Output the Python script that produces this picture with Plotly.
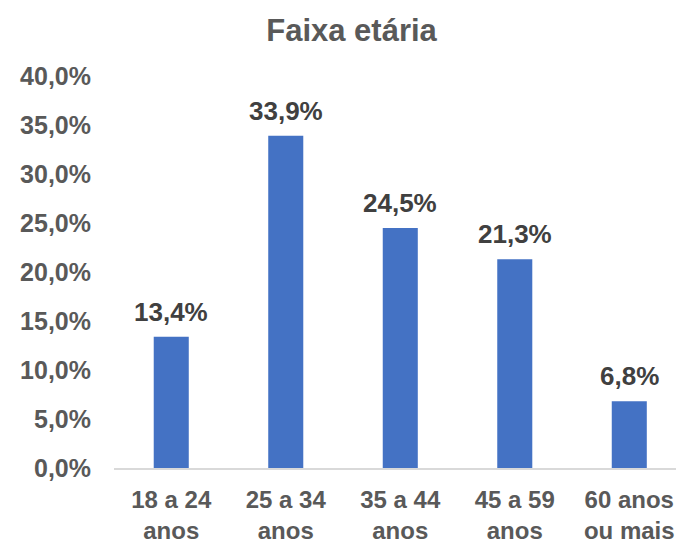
import plotly.graph_objs as go

# data
categories = ['18 a 24<br>anos', '25 a 34<br>anos', '35 a 44<br>anos', '45 a 59<br>anos', '60 anos<br>ou mais']
shares = [0.134, 0.339, 0.245, 0.213, 0.068]
y_ticks = [0.0, 0.05, 0.10, 0.15, 0.20, 0.25, 0.30, 0.35, 0.40]

FONT = 'Liberation Sans, Arial, sans-serif'
GREY = '#595959'
DARK = '#404040'
BLUE = '#4472C4'

trace = go.Bar(x=list(range(len(categories))), y=shares,
               marker=dict(color=BLUE, line=dict(width=0)),
               hoverinfo='skip')

# data labels above the bars
labels = []
for i, v in enumerate(shares):
    labels.append(dict(x=i, y=v, text=('%.1f%%' % (v * 100)).replace('.', ','),
                       showarrow=False, yanchor='bottom', yshift=8,
                       font=dict(family=FONT, size=26, color=DARK, weight='bold')))

layout = go.Layout(
    width=676, height=544,
    margin=dict(l=114, r=0, t=76, b=76, autoexpand=False),
    paper_bgcolor='white', plot_bgcolor='white',
    separators=',.',
    bargap=0.694,
    showlegend=False,
    title=dict(text='<b>Faixa etária</b>', x=0.52, xanchor='center', y=0.945, yanchor='middle',
               font=dict(family=FONT, size=31, color=GREY)),
    xaxis=dict(tickmode='array', tickvals=list(range(len(categories))), ticktext=categories,
               range=[-0.5, 4.408], showline=True, linecolor='#D9D9D9', linewidth=2,
               showgrid=False, zeroline=False, ticks='', ticklabelstandoff=9,
               ticklabeloverflow='allow', automargin=False,
               tickfont=dict(family=FONT, size=24, color=GREY, weight='bold'), tickangle=0),
    yaxis=dict(range=[0, 0.4], tickmode='array', tickvals=y_ticks, tickformat='.1%',
               showgrid=False, zeroline=False, showline=False, ticks='',
               ticklabelstandoff=22, automargin=False,
               tickfont=dict(family=FONT, size=25, color=GREY, weight='bold')),
    annotations=labels,
    font=dict(family=FONT),
)

fig = go.Figure(data=[trace], layout=layout)
# no page margin so the chart sits at the window corner
fig.write_html("out.html", config={'displayModeBar': False},
               post_script="document.body.style.margin='0';")
